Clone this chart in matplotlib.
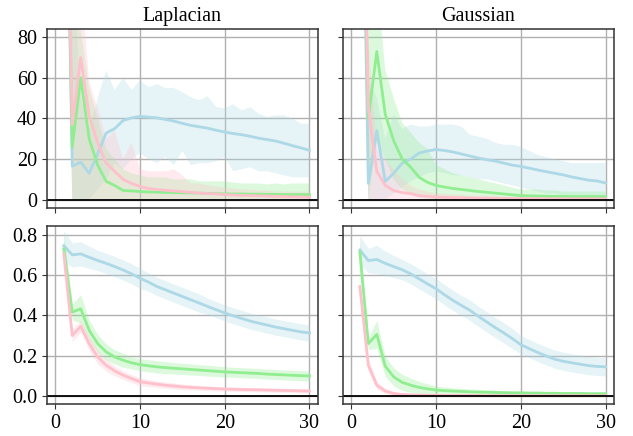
import matplotlib

matplotlib.use("Agg")
import matplotlib.pyplot as plt
import numpy as np

plt.rcParams["font.family"] = ["Liberation Serif", "DejaVu Serif"]
plt.rcParams["font.size"] = 14.5

steps = list(range(1, 31))
titles = ["Laplacian", "Gaussian"]

# top row: loss, stored as mean / lower / upper
lap_blue = [250, 16.5, 18.5, 13, 22.6, 32.8, 35, 39, 40.3, 41, 40.7, 40.3, 39.5, 38.7, 37.6,
            36.6, 35.9, 35.2, 34.2, 33.3, 32.6, 32, 31.2, 30.3, 29.6, 28.9, 27.8, 26.6, 25.5, 24.3]
lap_blue_lo = [200, 0, 0, 0, 5, 10, 18, 15, 20, 23, 20, 18, 21, 17, 24,
               17, 18, 18, 19, 21, 14, 15, 16, 14, 14, 13, 12, 11, 11, 11]
lap_blue_hi = [300, 120, 50, 35, 50, 63.6, 54, 60, 54, 58.7, 55.4, 57, 55, 55, 53,
               50.5, 49, 51, 45.6, 45, 47, 44, 45.6, 42.3, 40.7, 41.5, 41.5, 40, 37.4, 37.4]
lap_green = [250, 26, 60, 30, 17, 9, 7, 4.5, 4.3, 4, 3.8, 3.7, 3.6, 3.5, 3.4,
             3.3, 3.2, 3.1, 3, 2.9, 2.8, 2.8, 2.7, 2.7, 2.6, 2.6, 2.5, 2.5, 2.5, 2.5]
lap_green_lo = [200] + [0] * 29
lap_green_hi = [300, 90, 84, 55, 40, 25, 20, 15, 13, 12, 11, 11, 11, 10, 10,
                10, 9, 9, 9, 9, 8.5, 8, 8, 8, 7.5, 8, 7.5, 8, 8, 8]
lap_pink = [250, 37, 70, 41, 28, 18, 14, 10, 8, 6.5, 5.5, 5, 4.6, 4.3, 4,
            3.6, 3.2, 3, 2.8, 2.5, 2.3, 2.1, 2, 1.9, 1.8, 1.6, 1.5, 1.4, 1.3, 1.2]
lap_pink_lo = [200] + [0] * 29
lap_pink_hi = [300, 120, 110, 58, 45, 30, 34, 20, 28, 15, 14, 14, 14, 15, 12,
               8, 8, 7, 6.5, 6, 5.5, 5, 5, 4.5, 4.5, 4, 4, 4, 4, 4]

gau_blue = [250, 8, 34, 9, 13, 18, 20, 23, 24, 24.7, 24.2, 23.5, 22.5, 21.5, 20.5,
            19.7, 19, 18, 17, 16.4, 15.5, 14.6, 13.8, 13, 12.2, 11.2, 10.4, 9.6, 9.2, 8.2]
gau_blue_lo = [200, 0, 0, 0, 3, 6, 9, 11, 13, 14, 13, 12, 12, 11, 10,
               10, 9, 8, 7, 6, 5, 4, 3, 3, 2, 2, 1, 1, 0, 0]
gau_blue_hi = [300, 60, 50, 30, 42, 35, 37, 36, 36, 37, 37, 37, 36, 32, 31,
               30, 28, 27, 27, 26, 24, 22, 21, 20, 19, 18, 18, 18, 18, 18]
gau_green = [250, 40, 73, 42, 29, 20, 16, 11, 8.5, 7, 6.2, 5.5, 5, 4.5, 4,
             3.6, 3.2, 2.8, 2.4, 2, 1.9, 1.8, 1.7, 1.6, 1.6, 1.5, 1.5, 1.5, 1.5, 1.5]
gau_green_lo = [200, 0, 28, 20, 10, 5, 3, 1, 0.5] + [0] * 21
gau_green_hi = [300, 120, 110, 64, 50, 38, 33, 28, 25, 17, 15, 13, 12, 11, 10,
                9, 8, 7, 6, 5, 5, 5, 4.5, 4.5, 4, 4, 4, 4, 4, 4]
gau_pink = [250, 45, 14, 7, 4.5, 3.5, 3, 2, 1.6, 1.3, 1.1, 1, 0.9, 0.8, 0.7,
            0.7, 0.6, 0.6, 0.5, 0.5, 0.5, 0.5, 0.4, 0.4, 0.4, 0.4, 0.4, 0.4, 0.4, 0.4]
gau_pink_lo = [200] + [0] * 29
gau_pink_hi = [300, 80, 25, 20, 15, 10, 7, 5, 4, 3, 3, 2.5, 2.5, 2, 2,
               2, 2, 1.5, 1.5, 1.5, 1.5, 1.5, 1.5, 1.5, 1.5, 1.5, 1.5, 1.5, 1.5, 1.5]

# bottom row: metric, stored as mean / spread
lap_blue_b = [0.745, 0.70, 0.705, 0.688, 0.672, 0.658, 0.642, 0.625, 0.606, 0.584,
              0.565, 0.543, 0.527, 0.51, 0.494, 0.477, 0.461, 0.444, 0.428, 0.412,
              0.398, 0.385, 0.372, 0.362, 0.352, 0.342, 0.334, 0.326, 0.318, 0.313]
lap_blue_sd = [0.075, 0.06, 0.06, 0.055, 0.05, 0.05, 0.05, 0.05, 0.05, 0.05,
               0.045, 0.045, 0.045, 0.045, 0.045, 0.045, 0.045, 0.04, 0.04, 0.04,
               0.04, 0.04, 0.04, 0.04, 0.04, 0.04, 0.04, 0.04, 0.04, 0.04]
lap_green_b = [0.73, 0.416, 0.433, 0.326, 0.26, 0.219, 0.194, 0.178, 0.165, 0.156,
               0.15, 0.145, 0.141, 0.138, 0.135, 0.132, 0.129, 0.126, 0.123, 0.12,
               0.118, 0.116, 0.114, 0.112, 0.109, 0.107, 0.105, 0.103, 0.101, 0.10]
lap_green_sd = [0.08, 0.04, 0.07, 0.05, 0.045, 0.04, 0.035, 0.035, 0.03, 0.03,
                0.03, 0.03, 0.03, 0.028, 0.028, 0.028, 0.027, 0.027, 0.026, 0.026,
                0.025, 0.025, 0.025, 0.025, 0.025, 0.025, 0.025, 0.025, 0.025, 0.025]
lap_pink_b = [0.705, 0.30, 0.346, 0.26, 0.194, 0.153, 0.125, 0.104, 0.087, 0.071,
              0.065, 0.059, 0.054, 0.05, 0.046, 0.043, 0.041, 0.039, 0.037, 0.035,
              0.034, 0.033, 0.032, 0.031, 0.03, 0.029, 0.028, 0.027, 0.026, 0.025]
lap_pink_sd = [0.02, 0.03, 0.03, 0.035, 0.035, 0.03, 0.025, 0.022, 0.02, 0.02,
               0.018, 0.016, 0.015, 0.015, 0.014, 0.013, 0.012, 0.012, 0.011, 0.011,
               0.01, 0.01, 0.01, 0.01, 0.01, 0.01, 0.01, 0.01, 0.01, 0.01]

gau_blue_b = [0.724, 0.672, 0.677, 0.658, 0.642, 0.626, 0.606, 0.581, 0.556, 0.532,
              0.502, 0.474, 0.449, 0.425, 0.395, 0.367, 0.339, 0.313, 0.285, 0.255,
              0.235, 0.216, 0.199, 0.183, 0.173, 0.165, 0.158, 0.151, 0.147, 0.145]
gau_blue_sd = [0.07, 0.06, 0.07, 0.06, 0.055, 0.05, 0.05, 0.05, 0.05, 0.05,
               0.05, 0.05, 0.05, 0.05, 0.05, 0.05, 0.05, 0.05, 0.05, 0.045,
               0.045, 0.045, 0.045, 0.045, 0.045, 0.045, 0.045, 0.045, 0.045, 0.045]
gau_green_b = [0.713, 0.26, 0.306, 0.148, 0.095, 0.068, 0.054, 0.043, 0.036, 0.03,
               0.027, 0.025, 0.023, 0.021, 0.02, 0.019, 0.018, 0.017, 0.016, 0.016,
               0.015, 0.015, 0.014, 0.014, 0.013, 0.013, 0.013, 0.012, 0.012, 0.012]
gau_green_sd = [0.07, 0.03, 0.07, 0.05, 0.045, 0.04, 0.035, 0.03, 0.025, 0.02,
                0.018, 0.016, 0.015, 0.014, 0.013, 0.012, 0.011, 0.01, 0.01, 0.01,
                0.009, 0.009, 0.008, 0.008, 0.008, 0.008, 0.008, 0.008, 0.008, 0.008]
gau_pink_b = [0.543, 0.153, 0.054, 0.025, 0.013, 0.008, 0.006, 0.005, 0.004, 0.004,
              0.003, 0.003, 0.003, 0.003, 0.003, 0.002, 0.002, 0.002, 0.002, 0.002,
              0.002, 0.002, 0.002, 0.002, 0.002, 0.002, 0.002, 0.002, 0.002, 0.002]
gau_pink_sd = [0.04, 0.03, 0.02, 0.012, 0.008, 0.005, 0.004, 0.003, 0.003, 0.003,
               0.002, 0.002, 0.002, 0.002, 0.002, 0.002, 0.002, 0.002, 0.002, 0.002,
               0.002, 0.002, 0.002, 0.002, 0.002, 0.002, 0.002, 0.002, 0.002, 0.002]

COLORS = {"blue": "lightblue", "green": "lightgreen", "pink": "pink"}

top = [
    [("blue", lap_blue, lap_blue_lo, lap_blue_hi),
     ("green", lap_green, lap_green_lo, lap_green_hi),
     ("pink", lap_pink, lap_pink_lo, lap_pink_hi)],
    [("blue", gau_blue, gau_blue_lo, gau_blue_hi),
     ("green", gau_green, gau_green_lo, gau_green_hi),
     ("pink", gau_pink, gau_pink_lo, gau_pink_hi)],
]
bottom = [
    [("blue", lap_blue_b, lap_blue_sd), ("green", lap_green_b, lap_green_sd),
     ("pink", lap_pink_b, lap_pink_sd)],
    [("blue", gau_blue_b, gau_blue_sd), ("green", gau_green_b, gau_green_sd),
     ("pink", gau_pink_b, gau_pink_sd)],
]

fig, axes = plt.subplots(2, 2, figsize=(6.33, 4.36), dpi=100, sharex=True, sharey="row")
fig.subplots_adjust(left=0.074, right=0.970, top=0.933, bottom=0.073, wspace=0.092, hspace=0.10)

x = np.array(steps)
for col in range(2):
    ax = axes[0, col]
    for name, mean, lo, hi in top[col]:
        ax.fill_between(x, lo, hi, color=COLORS[name], alpha=0.3, lw=0)
        ax.plot(x, mean, color=COLORS[name], lw=2)
    ax.set_title(titles[col], fontsize=14.5)

    ax = axes[1, col]
    for name, mean, sd in bottom[col]:
        m = np.array(mean)
        s = np.array(sd)
        ax.fill_between(x, m - s, m + s, color=COLORS[name], alpha=0.3, lw=0)
        ax.plot(x, m, color=COLORS[name], lw=2)

for ax in axes.flat:
    ax.axhline(0, color="black", lw=1.3)
    ax.grid(True, color="#b0b0b0", lw=1)
    ax.set_axisbelow(True)
    ax.tick_params(color="#333333")
    for sp in ax.spines.values():
        sp.set_color("#333333")
        sp.set_linewidth(1.1)

axes[0, 0].set_ylim(-4, 84)
axes[0, 0].set_yticks([0, 20, 40, 60, 80])
axes[1, 0].set_ylim(-0.04, 0.845)
axes[1, 0].set_yticks([0.0, 0.2, 0.4, 0.6, 0.8])
axes[1, 0].set_xlim(-1, 31)
axes[1, 0].set_xticks([0, 10, 20, 30])

fig.savefig("out.png", dpi=100)
